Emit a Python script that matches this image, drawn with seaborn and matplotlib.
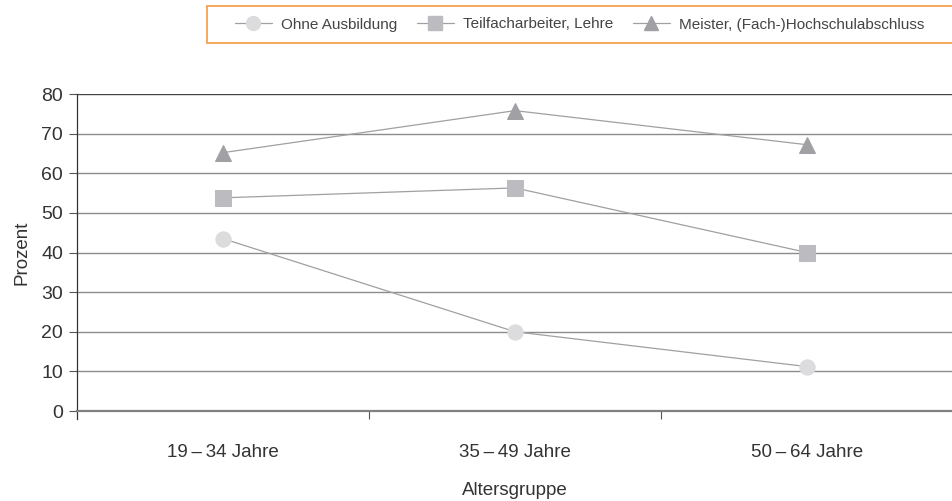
import matplotlib
matplotlib.use("Agg")
import matplotlib.pyplot as plt
from matplotlib.lines import Line2D
from matplotlib.patches import Rectangle
import seaborn as sns
import pandas as pd

categories = ["19\u2009–\u200934 Jahre", "35\u2009–\u200949 Jahre", "50\u2009–\u200964 Jahre"]
series_names = ["Ohne Ausbildung", "Teilfacharbeiter, Lehre", "Meister, (Fach-)Hochschulabschluss"]
ohne = [43.5, 20.0, 11.2]
teil = [53.8, 56.3, 40.0]
meister = [65.2, 75.8, 67.2]
yticks = [0, 10, 20, 30, 40, 50, 60, 70, 80]

sns.set_theme(style="white")
plt.rcParams["font.family"] = ["Liberation Sans", "DejaVu Sans"]

colors = ["#dcdcde", "#bcbcc0", "#a0a0a5"]
markers = ["o", "s", "^"]
msizes = [11, 11, 11]
line_grey = "#a0a0a0"
text_col = "#333333"

fig = plt.figure(figsize=(9.52, 5.01), dpi=100)
ax = fig.add_axes([77/952, (501-411)/501, 876/952, (411-94)/501])

for vals, c, m, ms in zip([ohne, teil, meister], colors, markers, msizes):
    df = pd.DataFrame({"x": list(range(len(categories))), "y": vals})
    sns.lineplot(data=df, x="x", y="y", ax=ax, color=line_grey, linewidth=0.9,
                 marker=m, markersize=ms, markerfacecolor=c, markeredgecolor=c, zorder=3)

ax.set_xlim(-0.5, 2.5)
ax.set_ylim(0, 80)
ax.set_yticks(yticks)
ax.set_yticklabels([str(t) for t in yticks], fontsize=14, color=text_col)
ax.set_xticks(range(len(categories)))
ax.set_xticklabels(categories, fontsize=13.5, color=text_col)
ax.set_xticks([0.5, 1.5], minor=True)
ax.tick_params(axis="x", which="major", length=0, pad=24)
ax.tick_params(axis="x", which="minor", length=6, width=0.8, color="#555555", bottom=True)
ax.tick_params(axis="y", which="major", length=6, width=0.8, color="#555555", left=True, pad=4)

for t in yticks:
    if t == 0:
        continue
    ax.axhline(t, color="#8c8c8c" if t != 80 else "#444444", linewidth=1.0, zorder=1)

for s in ["top", "right"]:
    ax.spines[s].set_visible(False)
ax.spines["left"].set_color("#333333")
ax.spines["left"].set_linewidth(0.9)
ax.spines["left"].set_bounds(-2, 80)
ax.spines["bottom"].set_color("#808080")
ax.spines["bottom"].set_linewidth(1.6)

ax.set_xlabel("Altersgruppe", fontsize=13.5, color=text_col, labelpad=15)
ax.set_ylabel("Prozent", fontsize=13.5, color=text_col, labelpad=8)

fig.patches.append(Rectangle((207/952, 1-43/501), 750/952, 37/501, transform=fig.transFigure,
                             facecolor="white", edgecolor="#f5a050", linewidth=1.3, zorder=0))
handles = [Line2D([0], [0], color=line_grey, linewidth=0.9, marker=m, markersize=10,
                  markerfacecolor=c, markeredgecolor=c)
           for c, m in zip(colors, markers)]
fig.legend(handles, series_names, loc="center left", bbox_to_anchor=(235/952, 1-24.5/501),
           ncol=3, frameon=False, fontsize=11, handlelength=2.4, columnspacing=1.3,
           handletextpad=0.6, labelcolor="#444444", borderaxespad=0, borderpad=0)

fig.savefig("out.png", dpi=100)
